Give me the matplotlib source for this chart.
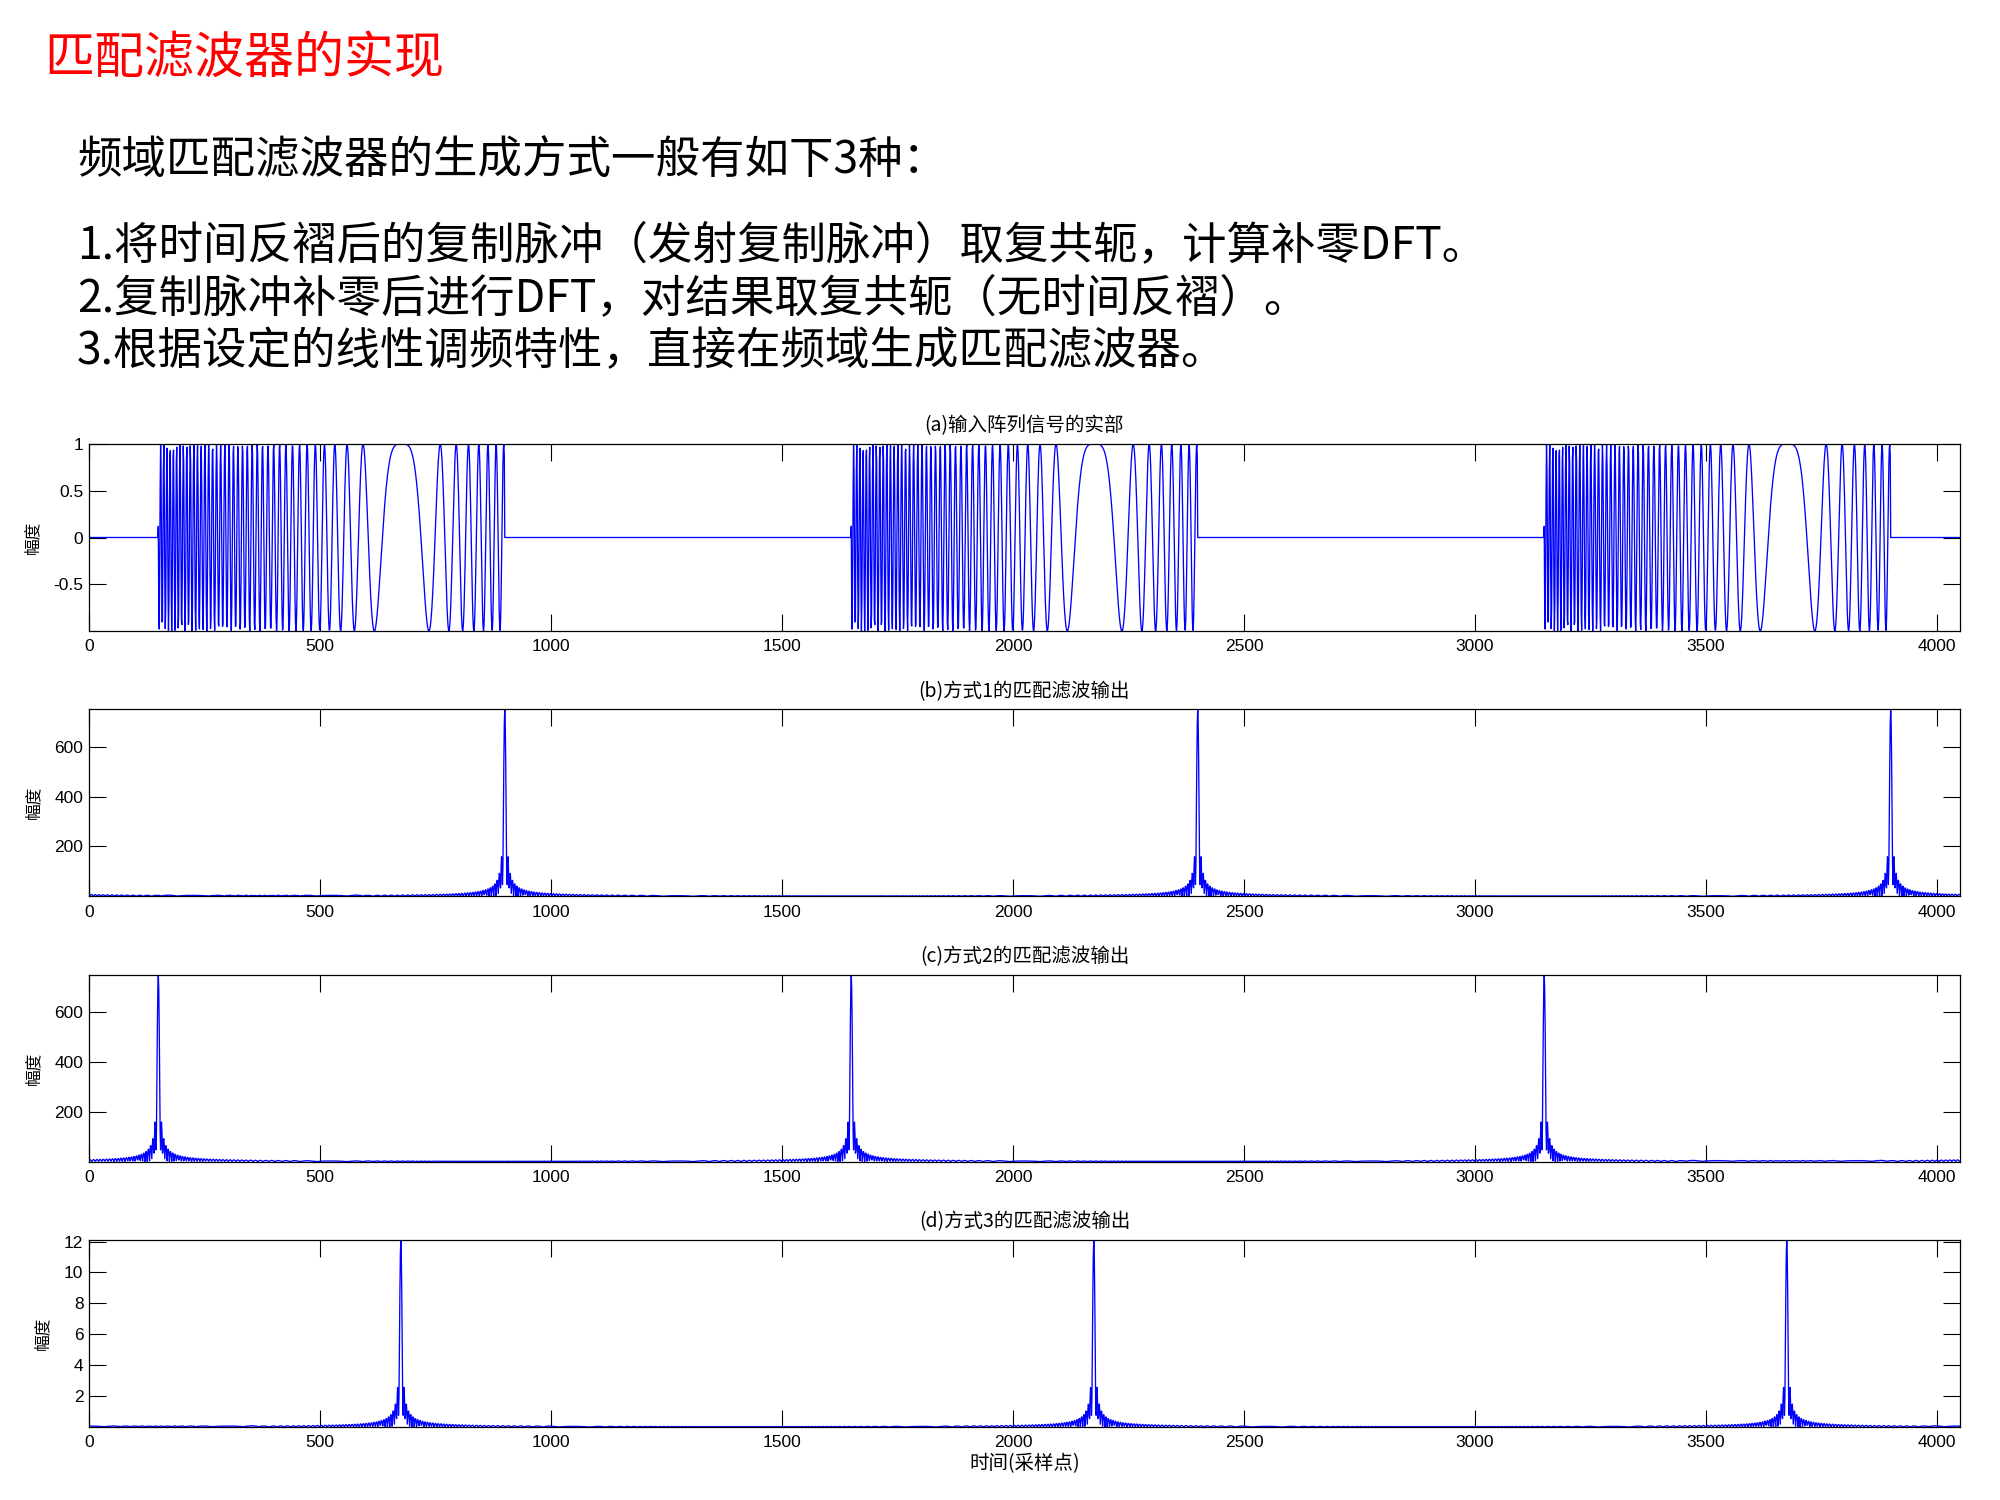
import numpy as np
import matplotlib
matplotlib.use("Agg")
import matplotlib.pyplot as plt

plt.rcParams['font.family'] = ['Noto Sans CJK SC', 'DejaVu Sans']

# ---------------- data ----------------
n_samples = 4050                      # record length (x axis runs to ~4050)
pulse_starts = [150, 1650, 3150]      # start of each LFM pulse in (a)
pulse_length = 750                    # samples per pulse
chirp_f_start = -0.151                # instantaneous freq. at pulse start (cycles/sample)
chirp_f_end = 0.064                   # instantaneous freq. at pulse end (cycles/sample)

peaks_b = [900, 2400, 3900]           # (b) method 1 output peak positions
height_b = 750
peaks_c = [150, 1650, 3150]           # (c) method 2 output peak positions
height_c = 750
peaks_d = [675, 2175, 3675]           # (d) method 3 output peak positions
height_d = 12.1

xticks = [0, 500, 1000, 1500, 2000, 2500, 3000, 3500, 4000]
yticks_a = [-0.5, 0, 0.5, 1]
yticks_bc = [200, 400, 600]
yticks_d = [2, 4, 6, 8, 10, 12]

panel_titles = ['(a)输入阵列信号的实部', '(b)方式1的匹配滤波输出',
                '(c)方式2的匹配滤波输出', '(d)方式3的匹配滤波输出']
ylabel_text = '幅度'
xlabel_text = '时间(采样点)'

page_title = '匹配滤波器的实现'
intro_text = '频域匹配滤波器的生成方式一般有如下3种：'
method_lines = ['1.将时间反褶后的复制脉冲（发射复制脉冲）取复共轭，计算补零DFT。',
                '2.复制脉冲补零后进行DFT，对结果取复共轭（无时间反褶）。',
                '3.根据设定的线性调频特性，直接在频域生成匹配滤波器。']

# ---------------- signals built from the parameters ----------------
m = np.arange(pulse_length)
m_zero = -chirp_f_start * pulse_length / (chirp_f_end - chirp_f_start)
replica = np.exp(1j * np.pi * (chirp_f_end - chirp_f_start) / pulse_length * (m - m_zero) ** 2)

n = np.arange(n_samples)
x_in = np.zeros(n_samples, dtype=complex)
for s in pulse_starts:
    x_in[s:s + pulse_length] = replica

shape = np.abs(np.correlate(replica, replica, mode='full'))
shape = shape / shape.max()
offsets = np.arange(shape.size) - (pulse_length - 1)


def compressed(peaks, height):
    y = np.zeros(n_samples)
    for p in peaks:
        np.add.at(y, (p + offsets) % n_samples, height * shape)
    return y


y_b = compressed(peaks_b, height_b)
y_c = compressed(peaks_c, height_c)
y_d = compressed(peaks_d, height_d)

# ---------------- figure ----------------
fig = plt.figure(figsize=(20, 15), dpi=100)
fig.patch.set_facecolor('white')

fig.text(0.022, 0.961, page_title, color='#ff0000', fontsize=36, ha='left', va='center')
fig.text(0.0385, 0.8935, intro_text, color='black', fontsize=32, ha='left', va='center')
for i, line in enumerate(method_lines):
    fig.text(0.0385, 0.8365 - i * 0.0353, line, color='black', fontsize=32, ha='left', va='center')

left = 89 / 2000
width = (1960 - 89) / 2000
height = 187 / 1500
tops = [444, 709.3, 974.6, 1240]

series = [np.real(x_in), y_b, y_c, y_d]
yticks_all = [yticks_a, yticks_bc, yticks_bc, yticks_d]
ylims = [(-1, 1), (0, y_b.max()), (0, y_c.max()), (0, y_d.max())]

for i in range(4):
    ax = fig.add_axes([left, 1 - (tops[i] + 187) / 1500, width, height])
    ax.plot(n, series[i], color='#0000ff', lw=0.95)
    ax.set_xlim(0, n_samples)
    ax.set_ylim(*ylims[i])
    ax.set_xticks(xticks)
    ax.set_yticks(yticks_all[i])
    ax.set_yticklabels([('%g' % v) for v in yticks_all[i]])
    ax.tick_params(direction='in', length=12.5, width=0.8, top=True, right=True,
                   labelsize=12.5, colors='black')
    ax.tick_params(axis='x', pad=6)
    ax.tick_params(axis='y', pad=4)
    for lab in ax.get_xticklabels() + ax.get_yticklabels():
        lab.set_fontfamily(['Liberation Sans', 'DejaVu Sans'])
    for sp in ax.spines.values():
        sp.set_linewidth(0.9)
        sp.set_color('black')
    ax.set_title(panel_titles[i], fontsize=14, pad=9)
    ax.set_ylabel(ylabel_text, fontsize=12, labelpad=9)
    if i == 3:
        ax.set_xlabel(xlabel_text, fontsize=14, labelpad=2)

fig.savefig('out.png', dpi=100, facecolor='white')
